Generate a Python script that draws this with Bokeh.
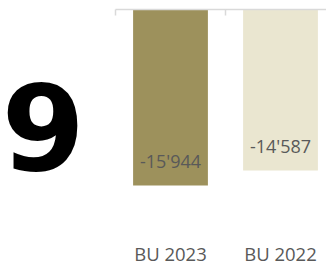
from bokeh.plotting import figure
from bokeh.models import Range1d
from bokeh.core.properties import value
from bokeh.embed import file_html
from bokeh.resources import INLINE

# data
categories = ["BU 2023", "BU 2022"]
values = [-15944, -14587]
bar_colors = ["#9d915c", "#eae6d0"]
big_text = ["9"]

W, H = 326, 266
x_start, x_end = -115 / 110, (326 - 115) / 110
upp = 90.59  # data units per px
y_top, y_bottom = 9 * upp, -(H - 9) * upp


def y_px(py):
    return y_top - py * upp


p = figure(width=W, height=H, output_backend="svg", toolbar_location=None,
           x_range=Range1d(x_start, x_end), y_range=Range1d(y_bottom, y_top),
           x_axis_type=None, y_axis_type=None, min_border=0)
p.outline_line_color = None
p.xgrid.visible = False
p.ygrid.visible = False
p.background_fill_color = "white"
p.border_fill_color = "white"

n = len(categories)
centers = [i + 0.5 for i in range(n)]
bounds = list(range(n + 1))

p.vbar(x=centers, width=0.68, top=0, bottom=values, fill_color=bar_colors,
       line_color=None)

# category axis line + ticks
p.segment(x0=[bounds[0]], y0=[0], x1=[bounds[-1]], y1=[0],
          line_color="#d9d9d9", line_width=1.5)
p.segment(x0=bounds, y0=[0] * len(bounds), x1=bounds, y1=[-6 * upp] * len(bounds),
          line_color="#d9d9d9", line_width=1.5)

labels = [f"{v:,}".replace(",", "'") for v in values]
p.text(x=centers, y=values, text=labels, text_align="center",
       text_baseline="alphabetic", y_offset=-24.5,
       text_font=value("Open Sans"), text_font_size="18px", text_color="#595959")

p.text(x=centers, y=[y_bottom] * n, text=categories, text_align="center",
       text_baseline="alphabetic", y_offset=-13,
       text_font=value("Open Sans"), text_font_size="18.5px", text_color="#595959")

p.text(x=[x_start], y=[y_px(167)], text=big_text, x_offset=1, y_offset=-42,
       text_font=value("DejaVu Sans"), text_font_style="bold",
       text_font_size="120px", text_color="black",
       text_baseline="alphabetic", text_align="left")

open("out.html", "w").write(file_html(p, INLINE))
